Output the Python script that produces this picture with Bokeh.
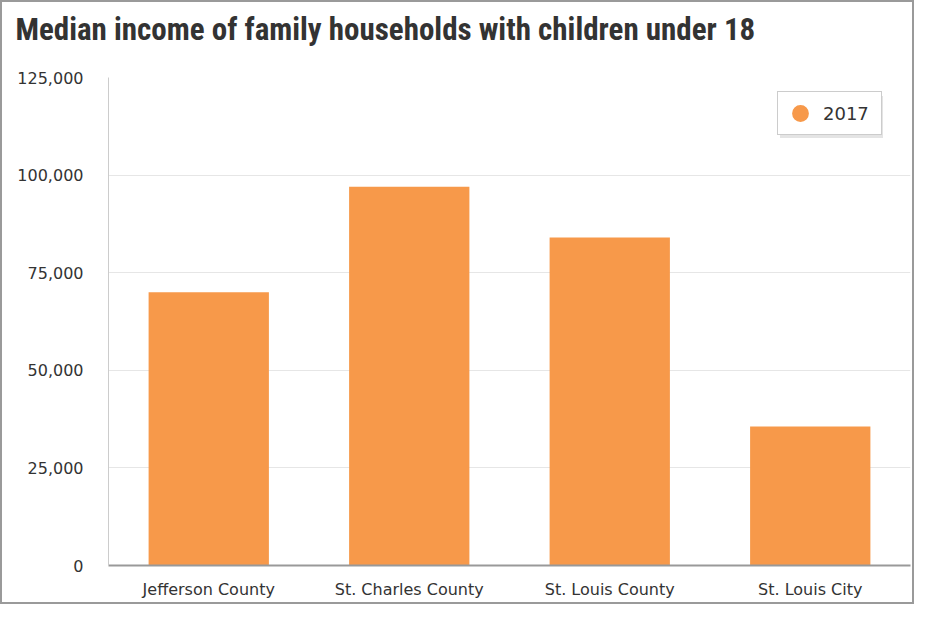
from bokeh.plotting import figure
from bokeh.models import ColumnDataSource, NumeralTickFormatter, Title, Legend, LegendItem, FixedTicker
from bokeh.embed import file_html
from bokeh.resources import INLINE

categories = ["Jefferson County", "St. Charles County", "St. Louis County", "St. Louis City"]
values_2017 = [70000, 97000, 84000, 35600]
series_name = "2017"
y_ticks = [0, 25000, 50000, 75000, 100000, 125000]
title_text = "Median income of family households with children under 18"

BAR = "#f7994a"
src = ColumnDataSource(dict(cat=categories, val=values_2017))

p = figure(x_range=categories, y_range=(0, 125000), width=914, height=604,
           output_backend="svg", toolbar_location=None, tools="",
           min_border_left=106, min_border_right=6, min_border_bottom=41, min_border_top=75)
p.styles = {"border": "2px solid #9a9a9a", "box-sizing": "border-box"}

# spacer between title and plot area (closest to the frame)
spacer = Title(text=" ", text_font_size="20px", standoff=4)
p.add_layout(spacer, "above")
t = Title(text=title_text, text_font="'Roboto Condensed', 'Liberation Sans Narrow', 'Roboto'",
          text_font_style="bold", text_font_size="31px", text_color="#333333",
          align="left", offset=-93, standoff=0, vertical_align="top")
p.add_layout(t, "above")

r = p.vbar(x="cat", top="val", width=0.6, source=src, color=BAR, line_color=None)
# legend-only marker (hidden renderer), so the legend shows a round symbol
dummy = p.scatter(x="cat", y="val", source=src, marker="circle", color=BAR, line_color=None, visible=False)

leg_kw = dict(label_text_font="DejaVu Sans", label_text_font_size="18px", label_text_color="#333333",
              glyph_width=44, glyph_height=42, label_height=42, label_width=58,
              padding=0, spacing=0, margin=0, label_standoff=1,
              inactive_fill_alpha=0.0, click_policy="none")
# soft drop shadow behind the legend box (no text of its own)
shadow = Legend(items=[LegendItem(label=" ", renderers=[dummy])], location=(672, 427),
                border_line_color=None, background_fill_color="#dddddd", background_fill_alpha=0.8, **leg_kw)
p.add_layout(shadow, "center")
legend = Legend(items=[LegendItem(label=series_name, renderers=[dummy])], location=(669, 430),
                border_line_color="#999999", border_line_width=1,
                background_fill_color="white", background_fill_alpha=1.0, **leg_kw)
p.add_layout(legend, "center")

p.outline_line_color = None
p.xgrid.grid_line_color = None
p.ygrid.grid_line_color = "#e6e6e6"
p.yaxis.ticker = FixedTicker(ticks=y_ticks)
p.yaxis.formatter = NumeralTickFormatter(format="0,0")
p.yaxis.axis_line_color = "#cccccc"
p.yaxis.major_tick_line_color = None
p.yaxis.minor_tick_line_color = None
p.yaxis.major_label_standoff = 19
p.yaxis.major_label_text_font = "DejaVu Sans"
p.yaxis.major_label_text_font_size = "16px"
p.yaxis.major_label_text_color = "#333333"

p.xaxis.axis_line_color = "#999999"
p.xaxis.axis_line_width = 2
p.xaxis.major_tick_line_color = None
p.xaxis.minor_tick_line_color = None
p.xaxis.major_label_standoff = 8
p.xaxis.major_label_text_font = "DejaVu Sans"
p.xaxis.major_label_text_font_size = "16px"
p.xaxis.major_label_text_color = "#333333"
p.x_range.range_padding = 0

open("out.html", "w").write(file_html(p, INLINE))
